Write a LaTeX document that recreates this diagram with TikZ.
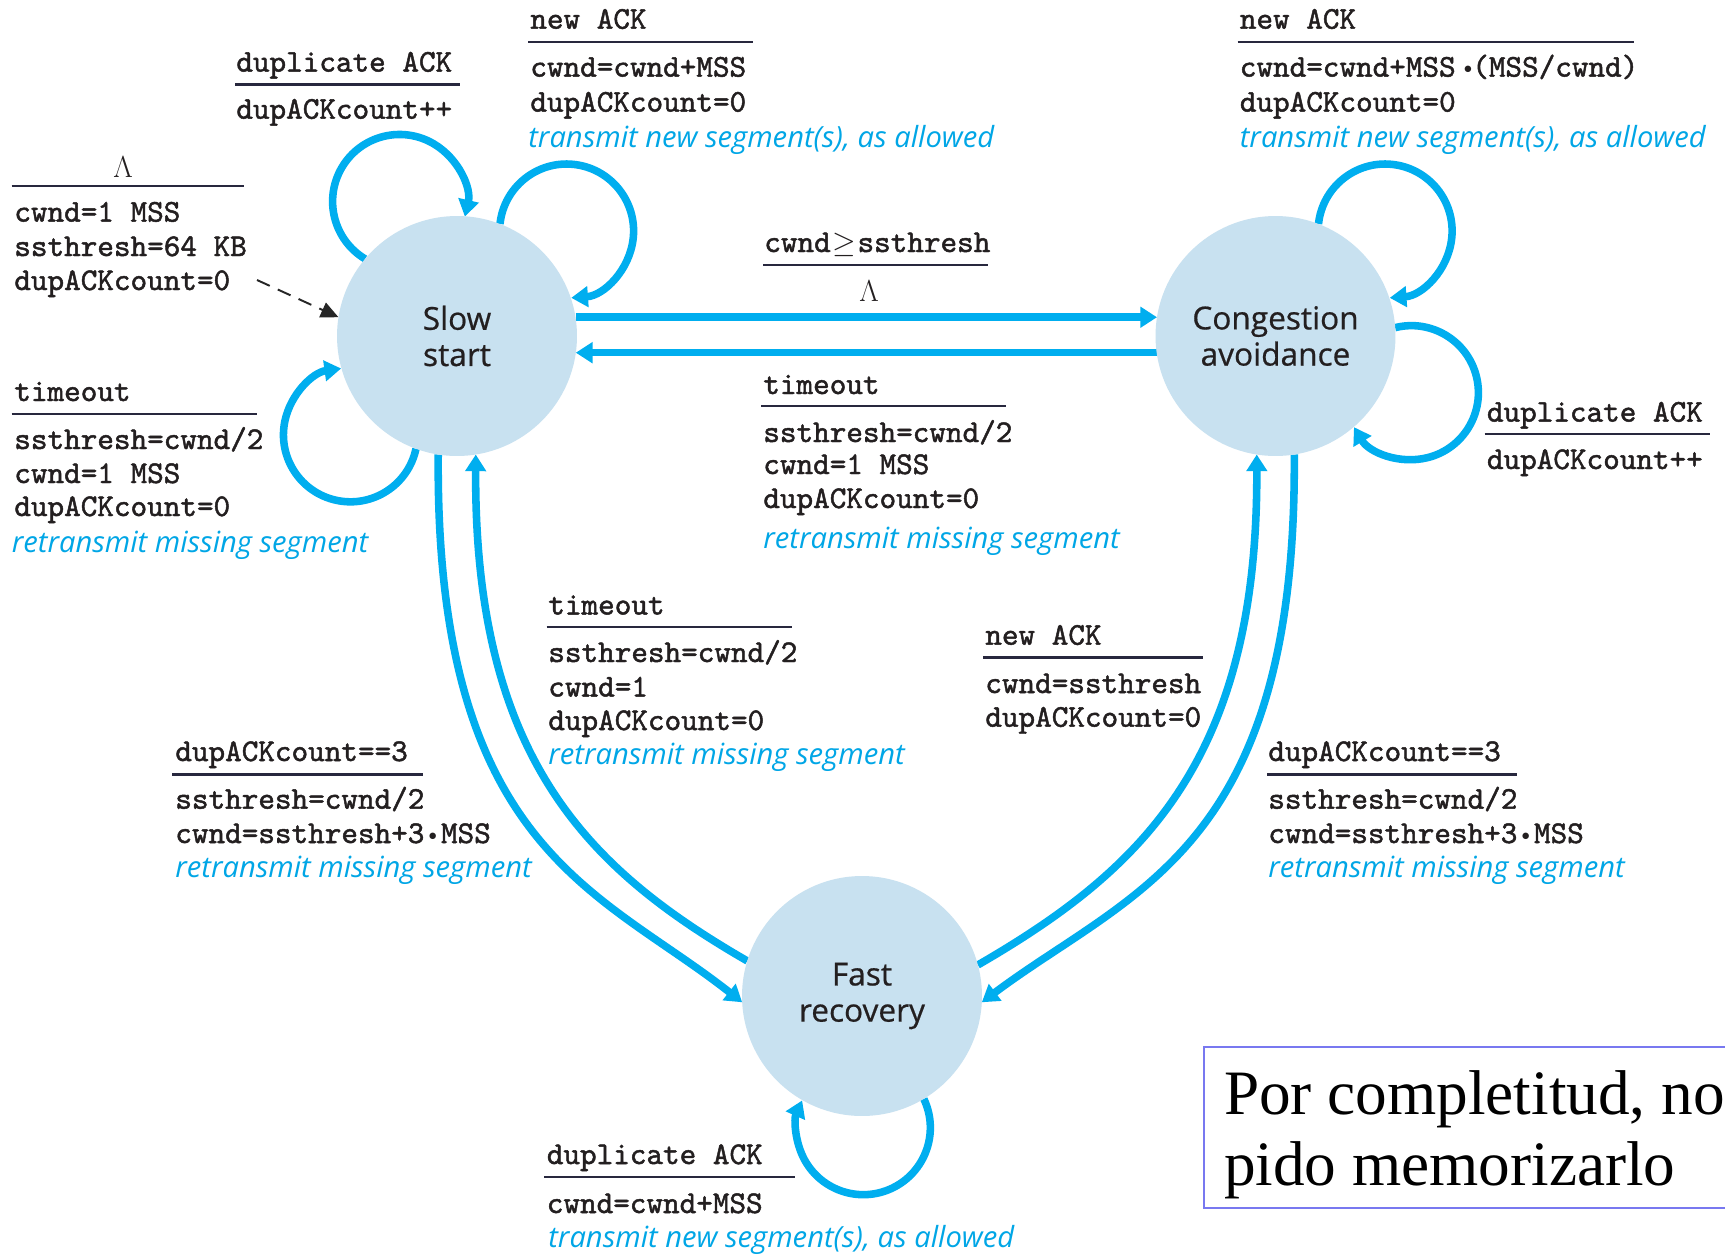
\documentclass[tikz,border=0pt]{standalone}
\usepackage{fontspec}
\usetikzlibrary{arrows.meta,backgrounds}
\newfontfamily\labelfont{Open Sans}
\newfontfamily\statefont{Open Sans}[FakeBold=0.6]
\newfontfamily\boxfont{Liberation Serif}
\newfontfamily\monof{lmmono10-regular.otf}[FakeBold=1.5]
\definecolor{arrowblue}{RGB}{0,174,239}
\definecolor{statefill}{RGB}{200,225,240}
\definecolor{actblue}{RGB}{0,166,230}
\definecolor{txtdark}{RGB}{35,31,32}
\definecolor{rulecol}{RGB}{40,40,62}
\definecolor{boxcol}{RGB}{120,120,240}
\newcommand{\mbul}{\makebox[0.525em]{\raisebox{0.2ex}{\scalebox{0.55}{$\bullet$}}}}
\newcommand{\mbulr}{\makebox[0.525em][r]{\raisebox{0.2ex}{\scalebox{0.55}{$\bullet$}}}}
\begin{document}
\begin{tikzpicture}[x=0.02cm,y=-0.02cm,
  state/.style={circle, fill=statefill, minimum size=4.8cm, inner sep=0pt, outer sep=0pt,
    align=center, font=\statefont\fontsize{18}{20.6}\selectfont, text=txtdark},
  mono/.style={anchor=base west, inner sep=0pt, font=\monof\fontsize{18}{20}\selectfont, text=txtdark},
  act/.style={anchor=base west, inner sep=0pt, font=\labelfont\itshape\fontsize{16.6}{18}\selectfont, text=actblue},
  lam/.style={inner sep=0pt, font=\fontsize{16}{18}\selectfont, text=txtdark},
  rulel/.style={draw=rulecol, line width=1.4pt},
  arr/.style={draw=arrowblue, line width=4.3pt, -{Triangle[length=9.5pt,width=11.5pt]}},
  initarr/.style={draw=black!85, line width=1.1pt, dash pattern=on 8pt off 5pt, -{Triangle[length=10pt,width=9pt]}},
  notetext/.style={anchor=base west, inner sep=0pt, font=\boxfont\fontsize{36}{40}\selectfont, text=black}
]
\useasboundingbox (0,0) rectangle (1725,1255);

% states
\node[state] (ss) at (457,336) {Slow\\start};
\node[state] (ca) at (1275.5,336) {Congestion\\avoidance};
\node[state] (fr) at (862,996) {Fast\\recovery};
\coordinate (init) at (257,280);

\begin{scope}[on background layer]
  \fill[white] (0,0) rectangle (1725,1255);
  % horizontal transitions
  \draw[arr] (ss.9) -- (ca.171);
  \draw[arr] (ca.-172) -- (ss.-8);
  % long curved transitions
  \draw[arr] (ss.-99) .. controls (435,850) and (600,890) .. (fr.183);
  \draw[arr] (fr.163) .. controls (590,870) and (474,760) .. (ss.-81);
  \draw[arr] (ca.-81) .. controls (1297,850) and (1132,890) .. (fr.-3);
  \draw[arr] (fr.15) .. controls (1142,870) and (1258,760) .. (ca.-99);
  % self loops
  \draw[arr] (ss.140) arc[start angle=239, end angle=-13, radius=1.34cm];
  \draw[arr] (ss.69) arc[start angle=174, end angle=-86, radius=1.34cm];
  \draw[arr] (ss.-110) arc[start angle=348, end angle=98, radius=1.34cm];
  \draw[arr] (ca.69) arc[start angle=174, end angle=-86, radius=1.34cm];
  \draw[arr] (ca.4) arc[start angle=104, end angle=-149, radius=1.34cm];
  \draw[arr] (fr.-59) arc[start angle=25.5, end angle=-204, radius=1.34cm];
  % initial
  \draw[initarr] (init) -- (ss.171);
\end{scope}

% slow start: duplicate ACK
\node[mono] (a1) at (236,71.6) {duplicate ACK};
\draw[rulel] (235,84.3) -- (460,84.3);
\node[mono] (a2) at (236,118.7) {dupACKcount++};

% slow start: new ACK
\node[mono] (b1) at (530,28.7) {new ACK};
\draw[rulel] (528,42) -- (752.6,42);
\node[mono] (b2) at (530,76.6) {cwnd=cwnd+MSS};
\node[mono] (b3) at (530,111.6) {dupACKcount=0};
\node[act] (b4) at (528,147) {transmit new segment(s), as allowed};

% initial
\node[lam] (c1) at (123,167) {$\Lambda$};
\draw[rulel] (11.5,186) -- (244,186);
\node[mono] (c2) at (14,221.6) {cwnd=1 MSS};
\node[mono] (c3) at (14,256) {ssthresh=64 KB};
\node[mono] (c4) at (14,290) {dupACKcount=0};

% slow start: timeout
\node[mono] (d1) at (14,401) {timeout};
\draw[rulel] (11.5,414) -- (257,414);
\node[mono] (d2) at (14,449) {ssthresh=cwnd/2};
\node[mono] (d3) at (14,483) {cwnd=1 MSS};
\node[mono] (d4) at (14,516) {dupACKcount=0};
\node[act] (d5) at (11.5,552) {retransmit missing segment};

% ss -> ca
\node[mono] (e1) at (764,252) {cwnd\hspace{0.05em}$\geq$\hspace{0.05em}ssthresh};
\draw[rulel] (763,265) -- (988,265);
\node[lam] (e2) at (869,291) {$\Lambda$};

% ca -> ss
\node[mono] (f1) at (763,394) {timeout};
\draw[rulel] (761,406) -- (1006,406);
\node[mono] (f2) at (763,442) {ssthresh=cwnd/2};
\node[mono] (f3) at (763,474) {cwnd=1 MSS};
\node[mono] (f4) at (763,508) {dupACKcount=0};
\node[act] (f5) at (763,548) {retransmit missing segment};

% ca: new ACK
\node[mono] (g1) at (1239.5,28.7) {new ACK};
\draw[rulel] (1237.5,42) -- (1634,42);
\node[mono] (g2) at (1239.5,76.6) {cwnd=cwnd+MSS\mbulr(MSS/cwnd)};
\node[mono] (g3) at (1239.5,111.6) {dupACKcount=0};
\node[act] (g4) at (1239.5,147) {transmit new segment(s), as allowed};

% ca: duplicate ACK
\node[mono] (h1) at (1486.6,421.6) {duplicate ACK};
\draw[rulel] (1484.6,434) -- (1709.8,434);
\node[mono] (h2) at (1486.6,469) {dupACKcount++};

% fr -> ss timeout
\node[mono] (i1) at (548,614.5) {timeout};
\draw[rulel] (546.5,627) -- (792,627);
\node[mono] (i2) at (548,662) {ssthresh=cwnd/2};
\node[mono] (i3) at (548,696.5) {cwnd=1};
\node[mono] (i4) at (548,730) {dupACKcount=0};
\node[act] (i5) at (548,764) {retransmit missing segment};

% ss -> fr
\node[mono] (j1) at (175,761) {dupACKcount==3};
\draw[rulel] (172,774.5) -- (423,774.5);
\node[mono] (j2) at (175,808.7) {ssthresh=cwnd/2};
\node[mono] (j3) at (175,843) {cwnd=ssthresh+3\mbul MSS};
\node[act] (j4) at (175,877) {retransmit missing segment};

% fr -> ca
\node[mono] (k1) at (985,644.7) {new ACK};
\draw[rulel] (983,657.5) -- (1202.6,657.5);
\node[mono] (k2) at (985,693) {cwnd=ssthresh};
\node[mono] (k3) at (985,726.7) {dupACKcount=0};

% ca -> fr
\node[mono] (l1) at (1268,761) {dupACKcount==3};
\draw[rulel] (1267,774.5) -- (1517,774.5);
\node[mono] (l2) at (1268,808.7) {ssthresh=cwnd/2};
\node[mono] (l3) at (1268,843) {cwnd=ssthresh+3\mbul MSS};
\node[act] (l4) at (1268,877) {retransmit missing segment};

% fr: duplicate ACK
\node[mono] (m1) at (546.5,1164) {duplicate ACK};
\draw[rulel] (544,1177) -- (795,1177);
\node[mono] (m2) at (546.5,1213) {cwnd=cwnd+MSS};
\node[act] (m3) at (548,1247) {transmit new segment(s), as allowed};

% note box
\begin{scope}
  \clip (0,0) rectangle (1725,1255);
  \draw[draw=boxcol, line width=1pt] (1203.7,1046.7) rectangle (1760,1208);
  \node[notetext] (n1) at (1223.7,1114) {Por completitud, no};
  \node[notetext] (n2) at (1223.7,1185) {pido memorizarlo};
\end{scope}
\end{tikzpicture}
\end{document}
